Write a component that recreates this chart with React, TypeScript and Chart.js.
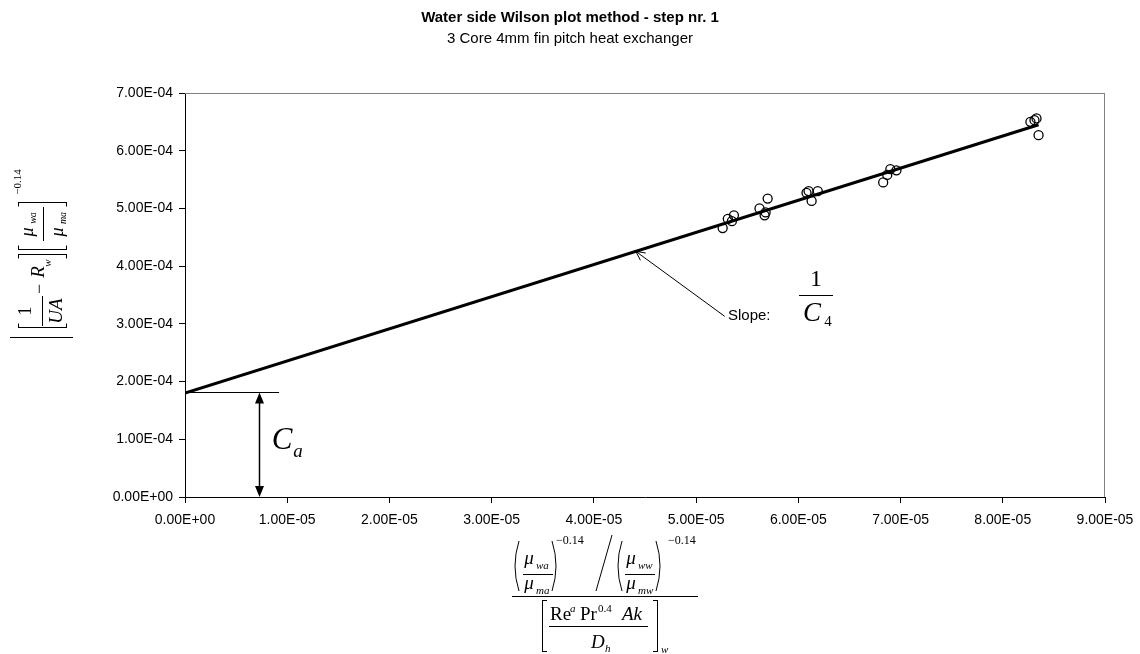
import React, { useEffect, useRef } from 'react';
import { Chart, registerables } from 'chart.js';

Chart.register(...registerables);

// Measured points (x: viscosity-corrected group, y: 1/UA - Rw term)
const xValues = [
  5.26e-5, 5.31e-5, 5.35e-5, 5.37e-5, 5.62e-5, 5.67e-5, 5.68e-5, 5.70e-5,
  6.08e-5, 6.10e-5, 6.13e-5, 6.19e-5,
  6.83e-5, 6.87e-5, 6.90e-5, 6.96e-5,
  8.27e-5, 8.31e-5, 8.33e-5, 8.35e-5,
];
const yValues = [
  4.66e-4, 4.82e-4, 4.78e-4, 4.88e-4, 5.00e-4, 4.88e-4, 4.93e-4, 5.17e-4,
  5.27e-4, 5.30e-4, 5.13e-4, 5.30e-4,
  5.45e-4, 5.58e-4, 5.68e-4, 5.66e-4,
  6.50e-4, 6.53e-4, 6.56e-4, 6.27e-4,
];

// Linear fit line
const fitX = [0, 8.35e-5];
const fitY = [1.80e-4, 6.45e-4];

const xTickLabels = [
  '0.00E+00', '1.00E-05', '2.00E-05', '3.00E-05', '4.00E-05',
  '5.00E-05', '6.00E-05', '7.00E-05', '8.00E-05', '9.00E-05',
];
const yTickLabels = [
  '0.00E+00', '1.00E-04', '2.00E-04', '3.00E-04',
  '4.00E-04', '5.00E-04', '6.00E-04', '7.00E-04',
];

const titleText = 'Water side Wilson plot method - step nr. 1';
const subtitleText = '3 Core 4mm fin pitch heat exchanger';

const SANS = '"Liberation Sans", Arial, sans-serif';
const SERIF = '"Liberation Serif", "Times New Roman", serif';

function line(ctx: CanvasRenderingContext2D, x1: number, y1: number, x2: number, y2: number, w = 1) {
  ctx.beginPath();
  ctx.lineWidth = w;
  ctx.moveTo(x1, y1);
  ctx.lineTo(x2, y2);
  ctx.stroke();
}

function txt(ctx: CanvasRenderingContext2D, s: string, x: number, y: number, font: string, align: CanvasTextAlign = 'center', baseline: CanvasTextBaseline = 'middle') {
  ctx.font = font;
  ctx.textAlign = align;
  ctx.textBaseline = baseline;
  ctx.fillText(s, x, y);
}

function rtxt(ctx: CanvasRenderingContext2D, s: string, x: number, y: number, font: string) {
  ctx.save();
  ctx.translate(x, y);
  ctx.rotate(-Math.PI / 2);
  ctx.font = font;
  ctx.textAlign = 'center';
  ctx.textBaseline = 'middle';
  ctx.fillText(s, 0, 0);
  ctx.restore();
}

function filledHead(ctx: CanvasRenderingContext2D, fx: number, fy: number, tx: number, ty: number, len: number, half: number) {
  const a = Math.atan2(ty - fy, tx - fx);
  ctx.beginPath();
  ctx.moveTo(tx, ty);
  ctx.lineTo(tx - len * Math.cos(a) + half * Math.sin(a), ty - len * Math.sin(a) - half * Math.cos(a));
  ctx.lineTo(tx - len * Math.cos(a) - half * Math.sin(a), ty - len * Math.sin(a) + half * Math.cos(a));
  ctx.closePath();
  ctx.fill();
}

function openHead(ctx: CanvasRenderingContext2D, fx: number, fy: number, tx: number, ty: number, len: number, half: number) {
  const a = Math.atan2(ty - fy, tx - fx);
  ctx.beginPath();
  ctx.lineWidth = 1;
  ctx.moveTo(tx - len * Math.cos(a) + half * Math.sin(a), ty - len * Math.sin(a) - half * Math.cos(a));
  ctx.lineTo(tx, ty);
  ctx.lineTo(tx - len * Math.cos(a) - half * Math.sin(a), ty - len * Math.sin(a) + half * Math.cos(a));
  ctx.stroke();
}

function paren(ctx: CanvasRenderingContext2D, x: number, top: number, bottom: number, dir: number) {
  ctx.beginPath();
  ctx.lineWidth = 1;
  ctx.moveTo(x + 4 * dir, top);
  ctx.quadraticCurveTo(x - 4 * dir, (top + bottom) / 2, x + 4 * dir, bottom);
  ctx.stroke();
}

const overlay = {
  id: 'overlay',
  afterDraw(chart: any) {
    const ctx: CanvasRenderingContext2D = chart.ctx;
    const xs = chart.scales.x;
    const ys = chart.scales.y;
    const ca = chart.chartArea;
    ctx.save();
    ctx.fillStyle = '#000';
    ctx.strokeStyle = '#000';

    // plot border (top/right grey)
    ctx.strokeStyle = '#808080';
    line(ctx, ca.left, Math.round(ca.top) + 0.5, ca.right, Math.round(ca.top) + 0.5);
    line(ctx, Math.round(ca.right) - 0.5, ca.top, Math.round(ca.right) - 0.5, ca.bottom);
    ctx.strokeStyle = '#000';

    // titles
    txt(ctx, titleText, 570, 18, `bold 15px ${SANS}`);
    txt(ctx, subtitleText, 570, 39, `15px ${SANS}`);

    // Intercept annotation
    const yInt = Math.round(ys.getPixelForValue(1.82e-4)) + 0.5;
    line(ctx, xs.getPixelForValue(0), yInt, xs.getPixelForValue(9.2e-6), yInt);
    const ax = Math.round(xs.getPixelForValue(7.2e-6)) + 0.5;
    const y0 = ys.getPixelForValue(0);
    line(ctx, ax, yInt + 6, ax, y0 - 6, 1.5);
    filledHead(ctx, ax, y0, ax, yInt, 11, 4.5);
    filledHead(ctx, ax, yInt, ax, y0, 11, 4.5);
    txt(ctx, 'C', 282, 441, `italic 31px ${SERIF}`);
    txt(ctx, 'a', 298, 452, `italic 19px ${SERIF}`);

    // Slope annotation
    const tipX = xs.getPixelForValue(4.41e-5);
    const tipY = ys.getPixelForValue(1.80e-4 + 5.57 * 4.41e-5);
    const tailX = xs.getPixelForValue(5.28e-5);
    const tailY = ys.getPixelForValue(3.13e-4);
    line(ctx, tailX, tailY, tipX, tipY, 1);
    openHead(ctx, tailX, tailY, tipX, tipY, 9, 4.5);
    txt(ctx, 'Slope:', 728, 316, `15px ${SANS}`, 'left');
    txt(ctx, '1', 816, 280, `24px ${SERIF}`);
    line(ctx, 799, 295.5, 833, 295.5, 1.2);
    txt(ctx, 'C', 812, 314, `italic 27px ${SERIF}`);
    txt(ctx, '4', 828, 322, `15px ${SERIF}`);

    // Y axis label (rotated formula)
    rtxt(ctx, '1', 26, 311, `18px ${SERIF}`);
    line(ctx, 42.5, 296, 42.5, 326, 1);
    rtxt(ctx, 'UA', 57, 311, `italic 19px ${SERIF}`);
    rtxt(ctx, '\u2212', 40, 289, `18px ${SERIF}`);
    rtxt(ctx, 'R', 39, 272, `italic 19px ${SERIF}`);
    rtxt(ctx, 'w', 48, 263, `italic 11px ${SERIF}`);
    const br = (y: number, d: number) => {
      line(ctx, 18, y, 67, y, 1);
      line(ctx, 18.5, y, 18.5, y + 4 * d, 1);
      line(ctx, 66.5, y, 66.5, y + 4 * d, 1);
    };
    br(327.5, -1);
    br(254.5, 1);
    br(249.5, -1);
    br(202.5, 1);
    rtxt(ctx, '\u03bc', 28, 232, `italic 18px ${SERIF}`);
    rtxt(ctx, 'wa', 33, 218, `italic 10px ${SERIF}`);
    line(ctx, 43.5, 207, 43.5, 241, 1);
    rtxt(ctx, '\u03bc', 58, 232, `italic 18px ${SERIF}`);
    rtxt(ctx, 'ma', 63, 218, `italic 10px ${SERIF}`);
    rtxt(ctx, '\u22120.14', 18, 182, `11px ${SERIF}`);
    line(ctx, 10, 337.5, 73, 337.5, 1);

    // X axis label (formula)
    paren(ctx, 515, 541, 591, 1);
    paren(ctx, 556, 541, 591, -1);
    txt(ctx, '\u03bc', 529, 559, `italic 19px ${SERIF}`);
    txt(ctx, 'wa', 536, 566, `italic 11px ${SERIF}`, 'left');
    line(ctx, 523, 574.5, 553, 574.5, 1);
    txt(ctx, '\u03bc', 529, 584, `italic 19px ${SERIF}`);
    txt(ctx, 'ma', 536, 591, `italic 11px ${SERIF}`, 'left');
    txt(ctx, '\u22120.14', 556, 541, `12px ${SERIF}`, 'left');
    line(ctx, 612, 535, 596, 591, 1);
    paren(ctx, 618, 541, 591, 1);
    paren(ctx, 660, 541, 591, -1);
    txt(ctx, '\u03bc', 631, 559, `italic 19px ${SERIF}`);
    txt(ctx, 'ww', 638, 566, `italic 11px ${SERIF}`, 'left');
    line(ctx, 625, 574.5, 655, 574.5, 1);
    txt(ctx, '\u03bc', 631, 584, `italic 19px ${SERIF}`);
    txt(ctx, 'mw', 638, 591, `italic 11px ${SERIF}`, 'left');
    txt(ctx, '\u22120.14', 668, 541, `12px ${SERIF}`, 'left');
    line(ctx, 512, 596.5, 698, 596.5, 1);
    line(ctx, 542.5, 600, 542.5, 652, 1);
    line(ctx, 542.5, 600.5, 547, 600.5, 1);
    line(ctx, 542.5, 651.5, 547, 651.5, 1);
    line(ctx, 657.5, 600, 657.5, 652, 1);
    line(ctx, 653, 600.5, 657.5, 600.5, 1);
    line(ctx, 653, 651.5, 657.5, 651.5, 1);
    txt(ctx, 'w', 661, 650, `italic 11px ${SERIF}`, 'left');
    txt(ctx, 'Re', 550, 620, `19px ${SERIF}`, 'left', 'alphabetic');
    txt(ctx, 'a', 570, 612, `italic 11px ${SERIF}`, 'left', 'alphabetic');
    txt(ctx, 'Pr', 580, 620, `19px ${SERIF}`, 'left', 'alphabetic');
    txt(ctx, '0.4', 598, 612, `11px ${SERIF}`, 'left', 'alphabetic');
    txt(ctx, 'Ak', 622, 620, `italic 19px ${SERIF}`, 'left', 'alphabetic');
    line(ctx, 549, 626.5, 648, 626.5, 1);
    txt(ctx, 'D', 591, 648, `italic 19px ${SERIF}`, 'left', 'alphabetic');
    txt(ctx, 'h', 605, 652, `italic 11px ${SERIF}`, 'left', 'alphabetic');

    ctx.restore();
  },
};

export default function App() {
  const ref = useRef<HTMLCanvasElement | null>(null);
  useEffect(() => {
    document.body.style.margin = '0';
    const canvas = ref.current!;
    const chart = new Chart(canvas, {
      type: 'scatter',
      data: {
        datasets: [
          {
            label: 'Data',
            data: xValues.map((x, i) => ({ x, y: yValues[i] })),
            pointStyle: 'circle',
            pointRadius: 4.5,
            pointBorderWidth: 1.3,
            pointBorderColor: '#000',
            pointBackgroundColor: 'rgba(255,255,255,0)',
            showLine: false,
          },
          {
            label: 'Fit',
            data: fitX.map((x, i) => ({ x, y: fitY[i] })),
            showLine: true,
            borderColor: '#000',
            borderWidth: 3,
            pointRadius: 0,
          },
        ],
      },
      options: {
        responsive: false,
        animation: false,
        devicePixelRatio: 1,
        layout: { padding: { top: 93, right: 35, left: 0, bottom: 0 } },
        plugins: { legend: { display: false }, tooltip: { enabled: false }, title: { display: false } },
        scales: {
          x: {
            type: 'linear',
            min: 0,
            max: 9e-5,
            afterFit: (s: any) => { s.height = 157; s.paddingRight = 0; s.paddingLeft = 0; },
            afterBuildTicks: (s: any) => { s.ticks = xTickLabels.map((_, i) => ({ value: i * 1e-5 })); },
            ticks: {
              callback: (_v: any, i: number) => xTickLabels[i],
              color: '#000',
              font: { family: SANS, size: 14 },
              padding: 9,
              maxRotation: 0,
              autoSkip: false,
            },
            grid: { drawOnChartArea: false, tickLength: 6, color: '#000' },
            border: { display: true, color: '#000', width: 1 },
          },
          y: {
            type: 'linear',
            min: 0,
            max: 7e-4,
            afterFit: (s: any) => { s.width = 185; s.paddingTop = 0; s.paddingBottom = 0; },
            afterBuildTicks: (s: any) => { s.ticks = yTickLabels.map((_, i) => ({ value: i * 1e-4 })); },
            ticks: {
              callback: (_v: any, i: number) => yTickLabels[i],
              color: '#000',
              font: { family: SANS, size: 14 },
              padding: 6,
              autoSkip: false,
            },
            grid: { drawOnChartArea: false, tickLength: 6, color: '#000' },
            border: { display: true, color: '#000', width: 1 },
          },
        },
      },
      plugins: [overlay],
    });
    return () => chart.destroy();
  }, []);
  return (
    <div style={{ position: 'absolute', left: 0, top: 0, width: 1140, height: 654, background: '#fff' }}>
      <canvas ref={ref} width={1140} height={654} style={{ width: 1140, height: 654 }} />
    </div>
  );
}
